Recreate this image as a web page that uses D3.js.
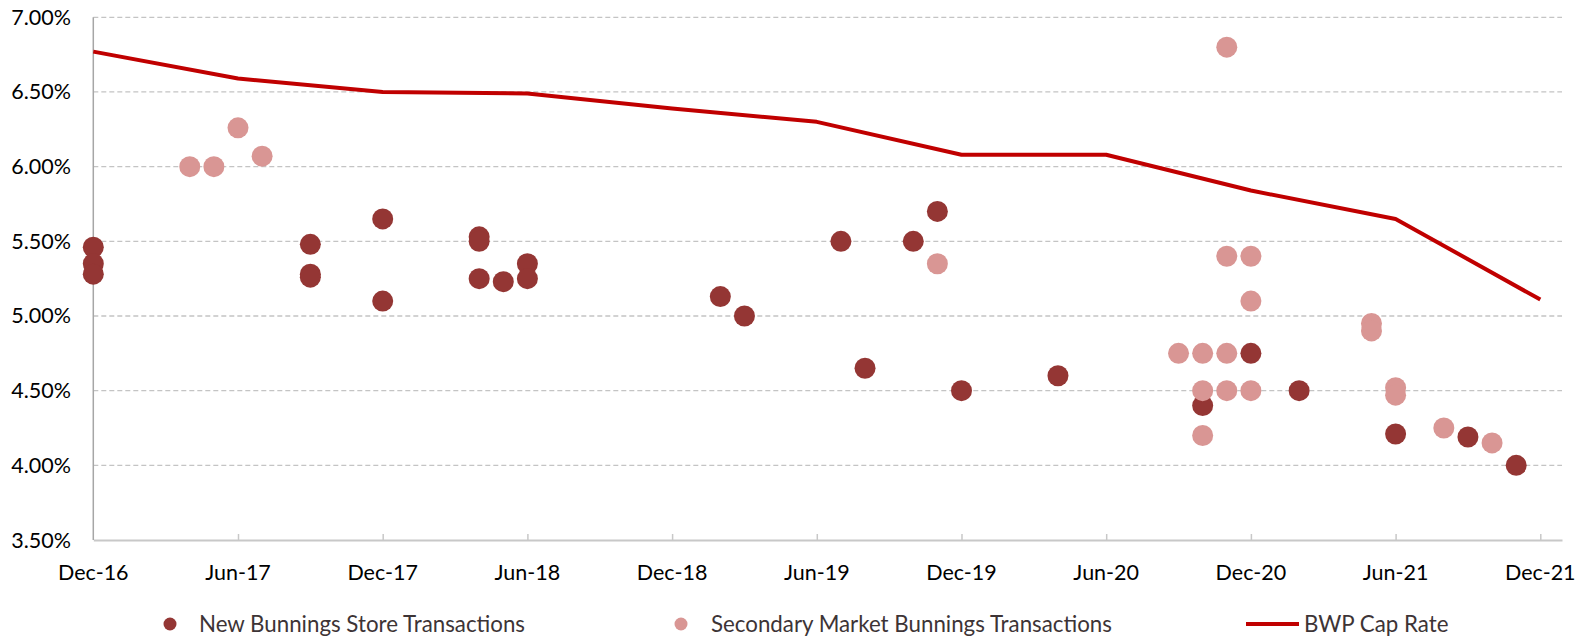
<!DOCTYPE html>
<html>
<head>
<meta charset="utf-8">
<script src="https://cdn.jsdelivr.net/npm/d3@7"></script>
<style>
  body { margin: 0; background: #fff; }
  svg { display: block; font-family: Lato, "Open Sans", sans-serif; }
  .tick-label { font-size: 21.5px; fill: #000; }
  .legend text { font-size: 22.3px; fill: #3d3436; }
</style>
</head>
<body>
<div id="chart"></div>
<script>
// months counted from Dec-16
const tickMonths = [0, 6, 12, 18, 24, 30, 36, 42, 48, 54, 60];
const tickLabels = ['Dec-16', 'Jun-17', 'Dec-17', 'Jun-18', 'Dec-18', 'Jun-19',
                    'Dec-19', 'Jun-20', 'Dec-20', 'Jun-21', 'Dec-21'];
const yTicks = [3.5, 4.0, 4.5, 5.0, 5.5, 6.0, 6.5, 7.0];

// BWP cap rate line
const capMonths = [0, 6, 12, 18, 24, 30, 36, 42, 48, 54, 60];
const capRates  = [6.77, 6.59, 6.50, 6.49, 6.39, 6.30, 6.08, 6.08, 5.84, 5.65, 5.11];

// New Bunnings store transactions
const newMonths = [0, 0, 0, 9, 9, 9, 12, 12, 16, 16, 16, 17, 18, 18, 26, 27,
                   31, 32, 34, 35, 36, 40, 46, 48, 50, 54, 57, 59];
const newYields = [5.46, 5.35, 5.28, 5.48, 5.28, 5.26, 5.65, 5.10, 5.53, 5.50, 5.25, 5.23, 5.35, 5.25, 5.13, 5.00,
                   5.50, 4.65, 5.50, 5.70, 4.50, 4.60, 4.40, 4.75, 4.50, 4.21, 4.19, 4.00];

// Secondary market Bunnings transactions
const secMonths = [4, 5, 6, 7, 35, 45, 46, 46, 46, 47, 47, 47, 47, 48, 48, 48,
                   53, 53, 54, 54, 56, 58];
const secYields = [6.00, 6.00, 6.26, 6.07, 5.35, 4.75, 4.75, 4.50, 4.20, 6.80, 5.40, 4.75, 4.50, 5.40, 5.10, 4.50,
                   4.95, 4.90, 4.52, 4.47, 4.25, 4.15];

const width = 1587;
const height = 636;
const darkRed = '#943634';
const pink = '#d99694';
const lineRed = '#c00000';

const svg = d3.select('#chart')
    .append('svg')
    .attr('width', width)
    .attr('height', height);

const xScale = d3.scaleLinear().domain([0, 60.9]).range([93.3, 1562]);
const yScale = d3.scaleLinear().domain([3.5, 7]).range([540, 17.3]);

// gridlines
svg.append('g')
    .selectAll('line')
    .data(yTicks.filter(d => d > 3.5))
    .join('line')
    .attr('x1', xScale(0))
    .attr('x2', xScale.range()[1])
    .attr('y1', d => yScale(d))
    .attr('y2', d => yScale(d))
    .attr('stroke', '#c4c4c4')
    .attr('stroke-width', 1.3)
    .attr('stroke-dasharray', '5,3');

// x axis
const xAxis = d3.axisBottom(xScale)
    .tickValues(tickMonths.slice(1))
    .tickFormat('')
    .tickSizeInner(-6)
    .tickSizeOuter(0);

const gx = svg.append('g')
    .attr('transform', `translate(0, ${yScale(3.5)})`)
    .call(xAxis);
gx.select('.domain').attr('stroke', '#c8c8c8').attr('stroke-width', 2);
gx.selectAll('.tick line').attr('stroke', '#c8c8c8').attr('stroke-width', 1.5);

svg.append('g')
    .selectAll('text')
    .data(tickMonths)
    .join('text')
    .attr('class', 'tick-label')
    .attr('x', d => xScale(d))
    .attr('y', 580)
    .attr('text-anchor', 'middle')
    .text((d, i) => tickLabels[i]);

// y axis
svg.append('line')
    .attr('x1', xScale(0)).attr('x2', xScale(0))
    .attr('y1', yScale(7)).attr('y2', yScale(3.5))
    .attr('stroke', '#a6a6a6')
    .attr('stroke-width', 1.5);

svg.append('g')
    .selectAll('text')
    .data(yTicks)
    .join('text')
    .attr('class', 'tick-label')
    .attr('x', 71)
    .attr('y', d => yScale(d) + 7.5)
    .attr('text-anchor', 'end')
    .text(d => d.toFixed(2) + '%');

// cap rate line
const line = d3.line()
    .x((d, i) => xScale(capMonths[i]))
    .y(d => yScale(d));

svg.append('path')
    .datum(capRates)
    .attr('d', line)
    .attr('fill', 'none')
    .attr('stroke', lineRed)
    .attr('stroke-width', 4)
    .attr('stroke-linejoin', 'round');

// dots
svg.append('g')
    .selectAll('circle')
    .data(newMonths.map((m, i) => ({ m, v: newYields[i] })))
    .join('circle')
    .attr('cx', d => xScale(d.m))
    .attr('cy', d => yScale(d.v))
    .attr('r', 10.5)
    .attr('fill', darkRed);

svg.append('g')
    .selectAll('circle')
    .data(secMonths.map((m, i) => ({ m, v: secYields[i] })))
    .join('circle')
    .attr('cx', d => xScale(d.m))
    .attr('cy', d => yScale(d.v))
    .attr('r', 10.5)
    .attr('fill', pink);

// legend
const legend = svg.append('g').attr('class', 'legend');
const ly = 624;

legend.append('circle').attr('cx', 170).attr('cy', ly).attr('r', 6.5).attr('fill', darkRed);
legend.append('text').attr('x', 199).attr('y', ly + 7.5).text('New Bunnings Store Transactions');

legend.append('circle').attr('cx', 681).attr('cy', ly).attr('r', 6.5).attr('fill', pink);
legend.append('text').attr('x', 711).attr('y', ly + 7.5).text('Secondary Market Bunnings Transactions');

legend.append('line')
    .attr('x1', 1246).attr('x2', 1299)
    .attr('y1', ly).attr('y2', ly)
    .attr('stroke', lineRed)
    .attr('stroke-width', 4);
legend.append('text').attr('x', 1304).attr('y', ly + 7.5).text('BWP Cap Rate');
</script>
</body>
</html>
